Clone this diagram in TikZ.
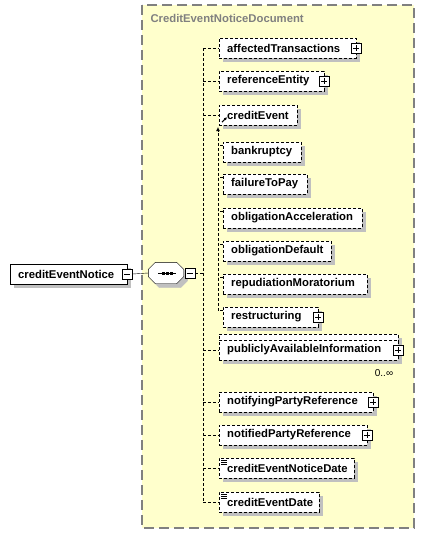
\documentclass[tikz,border=0pt]{standalone}
\usepackage{fontspec}
\setmainfont{Liberation Sans}
\usetikzlibrary{shadows,arrows.meta}

\definecolor{docyellow}{RGB}{255,255,204}
\definecolor{shadegray}{RGB}{192,192,192}
\definecolor{framegray}{RGB}{128,128,128}

\tikzset{
  elem/.style={draw, dash pattern=on 3pt off 2pt, fill=white, anchor=west,
    minimum height=20pt, inner xsep=8pt, inner ysep=0pt, align=left,
    font=\fontsize{11.3}{13}\selectfont\bfseries,
    drop shadow={shadow xshift=4pt, shadow yshift=-4pt, fill=shadegray, opacity=1}},
  icon/.style={draw, solid, fill=white, minimum size=10pt, inner sep=0pt,
    drop shadow={shadow xshift=1pt, shadow yshift=-1pt, fill=black, opacity=1}},
  minusicon/.style={icon, path picture={
    \draw ([xshift=2pt]path picture bounding box.west) -- ([xshift=-2pt]path picture bounding box.east);}},
  plusicon/.style={icon, path picture={
    \draw ([xshift=2pt]path picture bounding box.west) -- ([xshift=-2pt]path picture bounding box.east);
    \draw ([yshift=-2pt]path picture bounding box.north) -- ([yshift=2pt]path picture bounding box.south);}},
  conn/.style={dash pattern=on 3pt off 2pt, line width=1pt}
}

\begin{document}
\begin{tikzpicture}[x=1pt,y=-1pt]
    \useasboundingbox[fill=white] (0,0) rectangle (425,533);
    % frame of the complex type
    \draw[fill=docyellow, draw=framegray, line width=1.3pt, dash pattern=on 10pt off 5pt] (142,5) rectangle (414,528);
    \node[anchor=west, text=framegray, font=\fontsize{11.3}{13}\selectfont\bfseries] (title) at (147,18) {CreditEventNoticeDocument};

    % root element and sequence
    \node[elem, solid, text width=101pt] (root) at (10,274) {creditEventNotice};
    \node[minusicon] (root-m) at (root.east) {};
    \node[minimum width=35pt, minimum height=21pt, inner sep=0pt] (seq) at (166,273) {};
    \foreach \sh/\col/\dcol in {4pt/shadegray/shadegray, 0pt/white/black}
        \filldraw[fill=\col, draw=\dcol, transform canvas={shift={(\sh,-\sh)}}]
            ([xshift=7pt]seq.north west) -- ([xshift=-7pt]seq.north east) -- ([yshift=-7pt]seq.north east)
            -- ([yshift=7pt]seq.south east) -- ([xshift=-7pt]seq.south east) -- ([xshift=7pt]seq.south west)
            -- ([yshift=7pt]seq.south west) -- ([yshift=-7pt]seq.north west) -- cycle;
    \draw[line width=1pt] ([xshift=-8pt]seq.center) -- ([xshift=10pt]seq.center);
    \foreach \dx in {-3,1,5}
        \fill ([xshift=\dx pt]seq.center) +(-1.5,-1.5) rectangle +(1.5,1.5);
    \node[minusicon] (seq-m) at ([xshift=6pt]seq.east) {};
    \coordinate (trunk) at (203,273);
    \draw (root-m.east) -- (seq.west);
    \draw[conn] (seq-m.east) -- (trunk);

    % children of the sequence
    \node[elem, text width=163pt] (publicInfo-back) at (219,344) {};
    \foreach \nm/\txt/\yy/\ww/\pl [evaluate=\ww as \tw using \ww-16] in {
            affected/affectedTransactions/48/137/1,
            refEntity/referenceEntity/81/105/1,
            creditEvent/creditEvent/115/78/0,
            publicInfo/publiclyAvailableInformation/350/179/1,
            notifying/notifyingPartyReference/402/154/1,
            notified/notifiedPartyReference/435/148/1,
            noticeDate/creditEventNoticeDate/468/135/0,
            eventDate/creditEventDate/502/100/0} {
        \node[elem, text width=\tw pt] (\nm) at (219,\yy) {\txt};
        \ifnum\pl=1 \node[plusicon] (\nm-p) at (\nm.east) {}; \fi
        \draw[conn] (trunk |- \nm.west) -- (\nm.west);
    }
    \draw[conn] (trunk |- affected.west) -- (trunk |- eventDate.west);
    \node[font=\fontsize{10}{12}\selectfont] (publicInfo-occ) at (384,373) {0..∞};

    % reference mark and simple type marks
    \draw[line width=1pt, -{Latex[length=3pt,width=3pt]}] ([xshift=3pt,yshift=3pt]creditEvent.south west) -- ++(5,-5);
    \foreach \nm in {noticeDate,eventDate}
        \foreach \k in {2,4,6}
            \draw ([xshift=2pt,yshift=-\k pt]\nm.north west) -- ++(6,0);

    % substitution group of creditEvent
    \foreach \nm/\yy/\ww/\pl [evaluate=\ww as \tw using \ww-16] in {
            bankruptcy/152/78/0,
            failureToPay/184/84/0,
            obligationAcceleration/218/139/0,
            obligationDefault/251/108/0,
            repudiationMoratorium/284/144/0,
            restructuring/317/95/1} {
        \node[elem, text width=\tw pt] (\nm) at (223,\yy) {\nm};
        \ifnum\pl=1 \node[plusicon] (\nm-p) at (\nm.east) {}; \fi
        \draw[conn] ([yshift=-4pt]\nm.north west) -- ++(-5,0);
    }
    \coordinate (subst) at (218,127);
    \coordinate (substend) at ([yshift=-4pt]restructuring.north west);
    \draw[conn, -{Latex[length=4pt,width=4pt]}] (subst |- substend) -- (subst);
\end{tikzpicture}
\end{document}
